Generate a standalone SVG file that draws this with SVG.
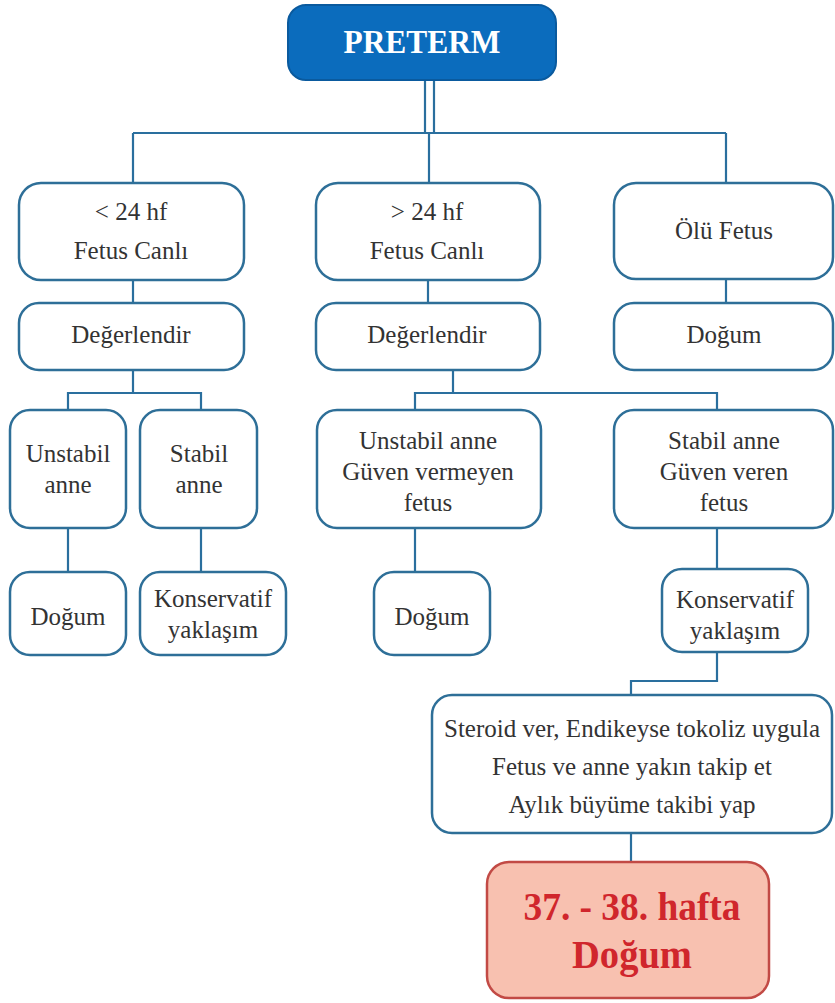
<svg xmlns="http://www.w3.org/2000/svg" width="835" height="1003" viewBox="0 0 835 1003">
<style>
.box{fill:#ffffff;stroke:#2e6f98;stroke-width:2.5}
.t{font-size:25px;fill:#333333;text-anchor:middle}
.c{fill:none;stroke:#2a6f9e;stroke-width:2.2}
</style>
<rect x="0" y="0" width="835" height="1003" fill="#ffffff"/>
<g id="connectors">
<path class="c" d="M425,80V133M434,80V133"/>
<path class="c" d="M133,133H726M429,133V183M133,133V183M726,133V183"/>
<path class="c" d="M133,280V303M428,280V303M726,280V303"/>
<path class="c" d="M133,370V393M68,410V393H201V410"/>
<path class="c" d="M68,528V572M201,528V572"/>
<path class="c" d="M453,370V393M415,410V393H717V410"/>
<path class="c" d="M415,528V572M717,528V569"/>
<path class="c" d="M717,652V681H631V695"/>
<path class="c" d="M631,833V862"/>
</g>
<g font-family="Liberation Serif, Times New Roman, serif">
<g id="preterm">
<rect x="288" y="5" width="268" height="75" rx="18" fill="#0b6cbd" stroke="#0a5a9e" stroke-width="2"/>
<text x="422" y="53" font-size="34" font-weight="bold" fill="#ffffff" text-anchor="middle" textLength="157" lengthAdjust="spacingAndGlyphs">PRETERM</text>
</g>
<g id="lt24">
<rect class="box" x="19" y="183" width="225" height="97" rx="22"/>
<text class="t" x="131" y="220">&lt; 24 hf</text>
<text class="t" x="131" y="259">Fetus Canlı</text>
</g>
<g id="gt24">
<rect class="box" x="316" y="183" width="224" height="97" rx="22"/>
<text class="t" x="427" y="220">&gt; 24 hf</text>
<text class="t" x="427" y="259">Fetus Canlı</text>
</g>
<g id="olu">
<rect class="box" x="614" y="183" width="219" height="96" rx="22"/>
<text class="t" x="724" y="239">Ölü Fetus</text>
</g>
<g id="deg1">
<rect class="box" x="19" y="303" width="225" height="67" rx="20"/>
<text class="t" x="131" y="343">Değerlendir</text>
</g>
<g id="deg2">
<rect class="box" x="316" y="303" width="224" height="67" rx="20"/>
<text class="t" x="427" y="343">Değerlendir</text>
</g>
<g id="dogum1">
<rect class="box" x="614" y="303" width="219" height="67" rx="20"/>
<text class="t" x="724" y="343">Doğum</text>
</g>
<g id="unstabil1">
<rect class="box" x="10" y="410" width="116" height="118" rx="20"/>
<text class="t" x="68" y="462">Unstabil</text>
<text class="t" x="68" y="493">anne</text>
</g>
<g id="stabil1">
<rect class="box" x="140" y="410" width="117" height="118" rx="20"/>
<text class="t" x="199" y="462">Stabil</text>
<text class="t" x="199" y="493">anne</text>
</g>
<g id="unstabil2">
<rect class="box" x="317" y="410" width="224" height="118" rx="20"/>
<text class="t" x="428" y="449">Unstabil anne</text>
<text class="t" x="428" y="480">Güven vermeyen</text>
<text class="t" x="428" y="511">fetus</text>
</g>
<g id="stabil2">
<rect class="box" x="614" y="410" width="219" height="118" rx="20"/>
<text class="t" x="724" y="449">Stabil anne</text>
<text class="t" x="724" y="480">Güven veren</text>
<text class="t" x="724" y="511">fetus</text>
</g>
<g id="dogum2">
<rect class="box" x="10" y="572" width="116" height="83" rx="20"/>
<text class="t" x="68" y="625">Doğum</text>
</g>
<g id="kons1">
<rect class="box" x="140" y="572" width="146" height="83" rx="20"/>
<text class="t" x="213" y="607">Konservatif</text>
<text class="t" x="213" y="638">yaklaşım</text>
</g>
<g id="dogum3">
<rect class="box" x="374" y="572" width="116" height="83" rx="20"/>
<text class="t" x="432" y="625">Doğum</text>
</g>
<g id="kons2">
<rect class="box" x="662" y="569" width="146" height="83" rx="20"/>
<text class="t" x="735" y="608">Konservatif</text>
<text class="t" x="735" y="639">yaklaşım</text>
</g>
<g id="steroid">
<rect class="box" x="432" y="695" width="400" height="138" rx="20"/>
<text class="t" x="632" y="737">Steroid ver, Endikeyse tokoliz uygula</text>
<text class="t" x="632" y="775">Fetus ve anne yakın takip et</text>
<text class="t" x="632" y="813">Aylık büyüme takibi yap</text>
</g>
<g id="final">
<rect x="487" y="862" width="282" height="136" rx="22" fill="#f8c1b0" stroke="#c24a45" stroke-width="2.5"/>
<text x="632" y="920" font-size="41" font-weight="bold" fill="#d0262c" text-anchor="middle" textLength="217" lengthAdjust="spacingAndGlyphs">37. - 38. hafta</text>
<text x="632" y="968" font-size="41" font-weight="bold" fill="#d0262c" text-anchor="middle" textLength="120" lengthAdjust="spacingAndGlyphs">Doğum</text>
</g>
</g>
</svg>
